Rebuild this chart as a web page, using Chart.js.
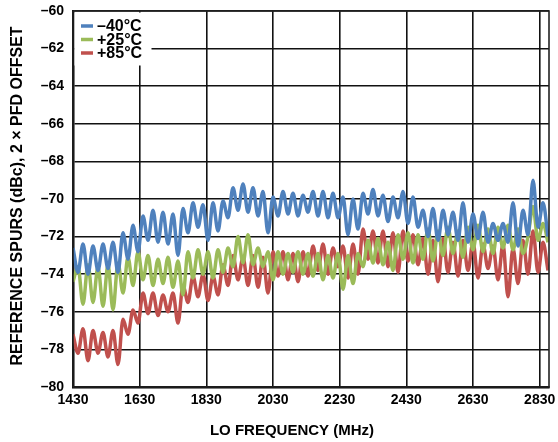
<!DOCTYPE html>
<html>
<head>
<meta charset="utf-8">
<script src="https://cdn.jsdelivr.net/npm/chart.js@4.4.1/dist/chart.umd.min.js"></script>
<style>
  html, body { margin: 0; padding: 0; background: #fff; }
  #wrap { width: 558px; height: 442px; }
</style>
</head>
<body>
<div id="wrap"><canvas id="chart-spurs"></canvas></div>
<script>
// LO sweep: one sample every 15 MHz from 1430 MHz
const FREQ_START = 1430;
const FREQ_STEP = 15;
const X_TICKS = [1430, 1630, 1830, 2030, 2230, 2430, 2630, 2830];
const SERIES_LABELS = ['\u201340\u00b0C', '+25\u00b0C', '+85\u00b0C'];

const minus40 = [
  -72.6, -73.9, -72.4, -74.0, -72.5, -73.8, -72.4, -73.7, -72.3, -73.9,
  -71.8, -73.2, -71.4, -72.8, -70.9, -72.2, -70.6, -72.3, -70.7, -72.4,
  -70.8, -73.0, -70.5, -71.8, -70.2, -71.5, -70.3, -72.2, -70.2, -71.7,
  -70.1, -71.0, -69.4, -70.6, -69.2, -70.7, -69.4, -70.9, -69.6, -71.8,
  -69.9, -70.9, -69.6, -70.8, -69.7, -70.9, -69.8, -70.7, -69.6, -70.9,
  -69.6, -71.0, -69.7, -71.0, -69.9, -71.9, -70.0, -71.6, -69.7, -70.8,
  -69.5, -70.9, -69.8, -71.2, -69.9, -71.0, -69.6, -71.3, -69.9, -71.5,
  -70.6, -72.0, -70.5, -72.2, -70.6, -71.9, -70.7, -72.2, -70.2, -72.3,
  -70.8, -72.1, -70.7, -72.3, -71.3, -72.2, -71.3, -72.3, -70.2, -72.5,
  -70.6, -71.9, -69.0, -71.5, -70.2, -72.0
];

const plus25 = [
  -74.4, -73.6, -75.6, -73.5, -75.5, -73.6, -75.7, -73.5, -75.9, -73.4,
  -75.0, -73.1, -74.6, -72.8, -74.3, -73.0, -74.6, -73.2, -74.5, -73.1,
  -74.7, -73.3, -75.1, -72.8, -74.2, -72.7, -74.0, -72.8, -74.2, -72.7,
  -73.9, -72.6, -73.6, -72.0, -73.4, -71.9, -73.5, -72.6, -73.6, -72.8,
  -74.3, -72.8, -74.0, -72.9, -73.9, -72.8, -74.0, -72.9, -74.1, -72.9,
  -74.3, -73.0, -74.2, -72.9, -74.8, -73.0, -74.5, -72.9, -73.6, -72.2,
  -73.4, -72.1, -73.5, -72.3, -73.8, -71.9, -73.2, -71.8, -73.4, -71.9,
  -73.2, -71.6, -73.3, -71.7, -73.0, -71.5, -72.9, -71.7, -73.1, -71.5,
  -72.7, -71.4, -72.8, -71.6, -72.9, -71.5, -72.6, -71.4, -72.7, -71.6,
  -72.9, -72.0, -70.4, -72.2, -71.3, -72.3
];

const plus85 = [
  -77.2, -78.2, -76.9, -78.6, -77.0, -78.2, -77.1, -78.4, -77.0, -78.8,
  -76.4, -77.2, -75.9, -76.6, -75.0, -76.1, -75.0, -76.2, -75.1, -76.0,
  -75.0, -76.6, -74.6, -75.5, -74.1, -75.2, -74.0, -75.4, -74.1, -75.1,
  -73.5, -74.6, -73.0, -74.3, -73.1, -74.6, -73.0, -74.7, -73.1, -75.0,
  -72.8, -74.1, -72.8, -74.3, -72.9, -74.4, -72.8, -74.1, -72.5, -73.8,
  -72.4, -74.0, -72.6, -73.6, -72.5, -74.2, -72.4, -74.0, -71.6, -73.2,
  -71.7, -73.4, -71.7, -73.6, -71.8, -73.9, -71.7, -73.3, -71.9, -73.5,
  -72.1, -74.0, -72.2, -74.4, -72.1, -73.9, -72.3, -74.1, -72.2, -73.8,
  -72.3, -74.2, -72.4, -73.7, -72.5, -74.3, -72.4, -75.2, -72.6, -74.5,
  -72.2, -74.0, -71.7, -73.9, -72.3, -73.8
];

const COLORS = ['#4f81bd', '#9bbb59', '#c0504d'];
const FONT = '"Liberation Sans", Arial, sans-serif';

const freqs = minus40.map((_, i) => FREQ_START + i * FREQ_STEP);
const toPoints = arr => arr.map((v, i) => ({ x: freqs[i], y: v }));

// legend in a white box, frame, and axis titles
const decor = {
  id: 'decor',
  afterDraw(chart) {
    const { ctx, chartArea: a } = chart;
    ctx.save();
    ctx.strokeStyle = '#222';
    ctx.lineWidth = 1.6;
    ctx.strokeRect(a.left, a.top, a.right - a.left, a.bottom - a.top);

    ctx.fillStyle = '#fff';
    ctx.fillRect(a.left + 1.5, a.top + 1.5, 77, 53);
    chart.data.datasets.forEach((ds, i) => {
      const y = a.top + 15 + i * 13.5;
      ctx.strokeStyle = ds.borderColor;
      ctx.lineWidth = 3.5;
      ctx.beginPath();
      ctx.moveTo(81, y);
      ctx.lineTo(93, y);
      ctx.stroke();
      ctx.fillStyle = '#000';
      ctx.font = 'bold 16px ' + FONT;
      ctx.textAlign = 'left';
      ctx.textBaseline = 'middle';
      ctx.fillText(ds.label, 97, y + 1);
    });

    ctx.fillStyle = '#000';
    ctx.font = 'bold 15px ' + FONT;
    ctx.textAlign = 'center';
    ctx.textBaseline = 'middle';
    ctx.fillText('LO FREQUENCY (MHz)', 292, 431);
    ctx.font = 'bold 16px ' + FONT;
    ctx.translate(18, 196);
    ctx.rotate(-Math.PI / 2);
    ctx.fillText('REFERENCE SPURS (dBc), 2 \u00d7 PFD OFFSET', 0, 0);
    ctx.restore();
  }
};

document.addEventListener('DOMContentLoaded', () => {
  const ctx = document.getElementById('chart-spurs');
  new Chart(ctx, {
    type: 'line',
    data: {
      datasets: [minus40, plus25, plus85].map((arr, i) => ({
        label: SERIES_LABELS[i],
        data: toPoints(arr),
        borderColor: COLORS[i],
        backgroundColor: COLORS[i],
        borderWidth: 3.5,
        pointRadius: 0,
        tension: 0.4,
        cubicInterpolationMode: 'monotone'
      }))
    },
    options: {
      responsive: true,
      maintainAspectRatio: false,
      animation: false,
      layout: { padding: { top: 11, right: 9, left: 0, bottom: 0 } },
      plugins: {
        legend: { display: false },
        tooltip: { enabled: false }
      },
      scales: {
        x: {
          type: 'linear',
          min: 1430,
          max: 2858,
          afterBuildTicks: s => { s.ticks = X_TICKS.map(v => ({ value: v })); },
          afterFit: s => { s.height = 55; s.paddingLeft = 0; s.paddingRight = 0; },
          grid: { color: '#111', lineWidth: 1.6, drawTicks: false },
          border: { color: '#000', width: 2.5 },
          ticks: {
            color: '#000',
            padding: 5,
            maxRotation: 0,
            autoSkip: false,
            font: { family: FONT, size: 14, weight: 'bold' },
            callback: v => String(v)
          }
        },
        y: {
          min: -80,
          max: -60,
          afterFit: s => { s.width = 73; s.paddingTop = 0; s.paddingBottom = 0; },
          grid: { color: '#111', lineWidth: 1.6, drawTicks: false },
          border: { color: '#000', width: 2.5 },
          ticks: {
            stepSize: 2,
            color: '#000',
            padding: 9,
            font: { family: FONT, size: 14, weight: 'bold' },
            callback: v => String(v).replace('-', '\u2013')
          }
        }
      }
    },
    plugins: [decor]
  });
});
</script>
</body>
</html>
